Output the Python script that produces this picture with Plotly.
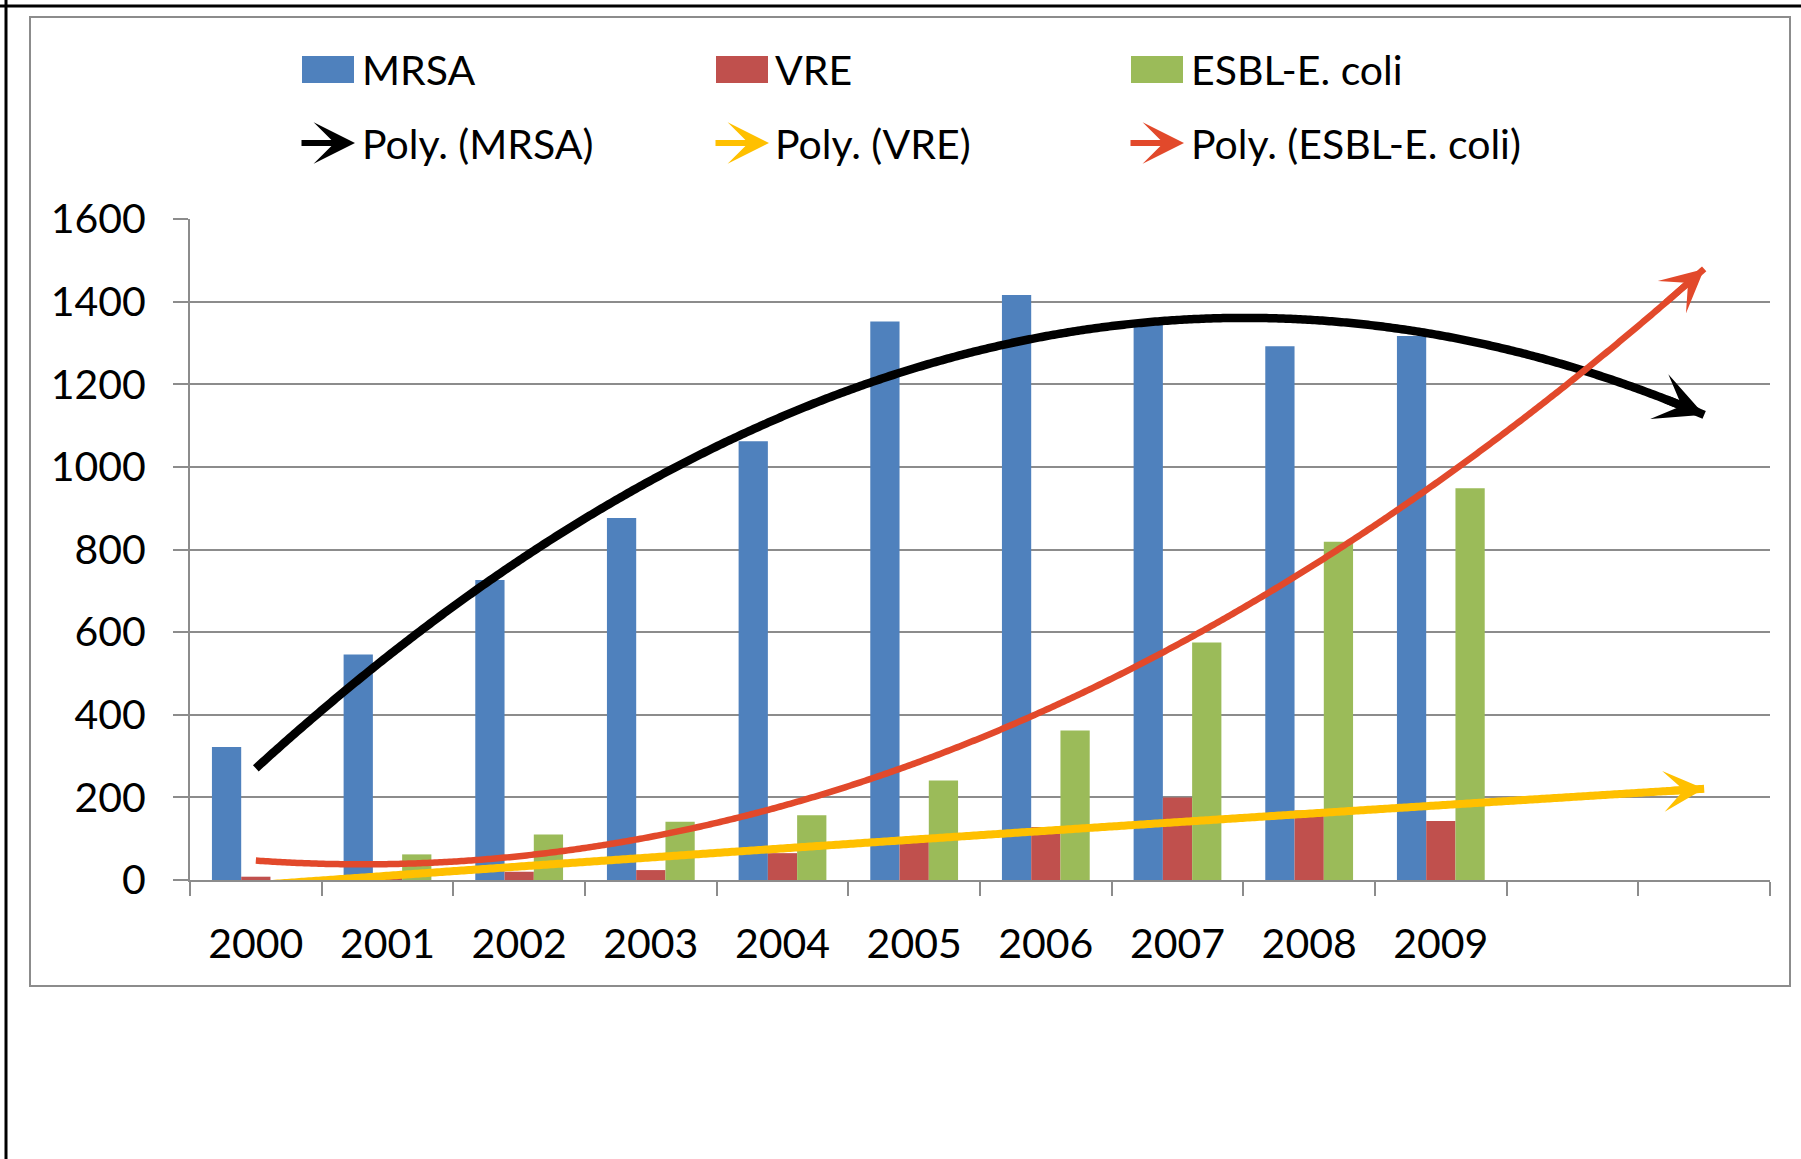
import numpy as np
import plotly.graph_objects as go

years = ["2000", "2001", "2002", "2003", "2004", "2005", "2006", "2007", "2008", "2009"]
mrsa = [322, 546, 726, 876, 1062, 1352, 1416, 1350, 1292, 1317]
vre = [8, 12, 20, 24, 65, 92, 128, 200, 168, 143]
esbl = [0, 62, 110, 141, 157, 241, 362, 575, 819, 948]

series_names = ["MRSA", "VRE", "ESBL-E. coli"]
bar_colors = ["#4F81BD", "#C0504D", "#9BBB59"]
trend_names = ["Poly. (MRSA)", "Poly. (VRE)", "Poly. (ESBL-E. coli)"]
trend_colors = ["#000000", "#FFC000", "#E2492B"]
trend_widths = [8.5, 8, 6.5]
trend_heads = [0.95, 0.85, 1.1]
n_slots = 12          # 10 years + 2 forecast periods
forecast_end = 11     # polynomial trend forecast forward 2 periods

W, H = 1801, 1159
L, R, T, B = 190, 1770, 219, 880
FONT = "Lato, Carlito, 'Liberation Sans', sans-serif"
GRID = "#8C8C8C"

def px_x(p):
    return (p - L) / (R - L)

def px_y(p):
    return (B - p) / (B - T)

xi = list(range(len(years)))
fig = go.Figure()
for name, vals, col in zip(series_names, [mrsa, vre, esbl], bar_colors):
    fig.add_trace(go.Bar(x=xi, y=vals, name=name, marker=dict(color=col, line=dict(width=0)),
                         showlegend=False))

xs = np.linspace(0, forecast_end, 600)
annotations = []
for name, vals, col, w, hs in zip(trend_names, [mrsa, vre, esbl], trend_colors,
                                  trend_widths, trend_heads):
    coef = np.polyfit(xi, vals, 2)
    ys = np.polyval(coef, xs)
    fig.add_trace(go.Scatter(x=xs, y=ys, mode="lines", name=name,
                             line=dict(color=col, width=w, simplify=False),
                             showlegend=False, hoverinfo="skip"))
    x0 = forecast_end - 0.3
    annotations.append(dict(x=forecast_end, y=float(np.polyval(coef, forecast_end)),
                            ax=x0, ay=float(np.polyval(coef, x0)),
                            xref="x", yref="y", axref="x", ayref="y", text="",
                            showarrow=True, arrowhead=3, arrowsize=hs,
                            arrowwidth=w, arrowcolor=col, standoff=0))

# custom legend (two rows, three columns)
shapes = []
col_sw = [302, 716, 1131]
col_txt = [360, 773, 1189]
row_y = [69, 143]
for i in range(3):
    shapes.append(dict(type="rect", xref="paper", yref="paper",
                       x0=px_x(col_sw[i]), x1=px_x(col_sw[i] + 52),
                       y0=px_y(83), y1=px_y(56),
                       fillcolor=bar_colors[i], line=dict(width=0)))
    annotations.append(dict(x=px_x(col_txt[i]), y=px_y(row_y[0]), xref="paper", yref="paper",
                            text=series_names[i], showarrow=False, xanchor="left",
                            yanchor="middle", font=dict(family=FONT, size=41, color="black")))
    annotations.append(dict(x=px_x(col_sw[i] + 53), y=px_y(row_y[1]), xref="paper", yref="paper",
                            ax=-55, ay=0, text="", showarrow=True, arrowhead=3,
                            arrowsize=1.15, arrowwidth=6, arrowcolor=trend_colors[i], standoff=0))
    annotations.append(dict(x=px_x(col_txt[i]), y=px_y(row_y[1]), xref="paper", yref="paper",
                            text=trend_names[i], showarrow=False, xanchor="left",
                            yanchor="middle", font=dict(family=FONT, size=41, color="black")))

# chart-area frame and outer borders
shapes.append(dict(type="rect", xref="paper", yref="paper",
                   x0=px_x(30), x1=px_x(1790), y0=px_y(986), y1=px_y(17),
                   line=dict(color="#8C8C8C", width=2), fillcolor="rgba(0,0,0,0)"))
shapes.append(dict(type="line", xref="paper", yref="paper",
                   x0=px_x(0), x1=px_x(W), y0=px_y(6), y1=px_y(6),
                   line=dict(color="black", width=3)))
shapes.append(dict(type="line", xref="paper", yref="paper",
                   x0=px_x(6), x1=px_x(6), y0=px_y(0), y1=px_y(H),
                   line=dict(color="black", width=3)))

fig.update_layout(
    width=W, height=H,
    margin=dict(l=L, r=W - R, t=T, b=H - B, pad=0, autoexpand=False),
    paper_bgcolor="white", plot_bgcolor="white",
    barmode="group", bargap=1 / 3, bargroupgap=0,
    font=dict(family=FONT, size=41, color="black"),
    shapes=shapes, annotations=annotations,
    xaxis=dict(range=[-0.5, n_slots - 0.5], tickmode="array", tickvals=xi, ticktext=years,
               ticks="", showgrid=False, zeroline=False, showline=True,
               linecolor=GRID, linewidth=2, ticklabelstandoff=27,
               tickfont=dict(family=FONT, size=41, color="black"),
               minor=dict(tickmode="array", tickvals=[k - 0.5 for k in range(n_slots + 1)],
                          ticks="outside", ticklen=14, tickwidth=2, tickcolor=GRID,
                          showgrid=False)),
    yaxis=dict(range=[0, 1600], tickmode="linear", tick0=0, dtick=200,
               showgrid=True, gridcolor=GRID, gridwidth=2, zeroline=False,
               showline=True, linecolor=GRID, linewidth=2,
               ticks="outside", ticklen=15, tickwidth=2, tickcolor=GRID,
               ticklabelstandoff=19,
               tickfont=dict(family=FONT, size=41, color="black")),
)

fig.write_html("out.html", config={"displayModeBar": False},
               post_script="document.body.style.margin='0';document.body.style.overflow='hidden';")
